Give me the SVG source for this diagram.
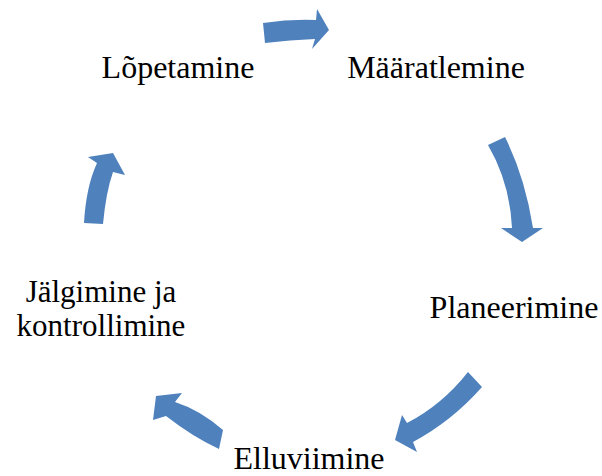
<svg xmlns="http://www.w3.org/2000/svg" width="602" height="476" viewBox="0 0 602 476">
<style>
.t{font-family:"Liberation Serif","Times New Roman",serif;font-size:32px;fill:#000;text-anchor:middle}
.s{font-size:31px}
.a{fill:#4F81BD;stroke:none}
</style>
<rect width="602" height="476" fill="#fff"/>
<g id="connectors">
<path class="a" d="M263,23 Q290,19 316,20 L317,9 L329,30 L312,49 L315,39 Q290,40 265,43 Z"/>
<path class="a" d="M488,145 Q510,183 512,228 L501,228 L522,242 L543,228 L533,228 Q525,177 505,137 Z"/>
<path class="a" d="M468,372 Q442,405 407,423 L402,415 L395,440 L417,452 L413,442 Q452,421 482,387 Z"/>
<path class="a" d="M223,430 Q200,410 175,402 L182,393 L156,396 L153,420 L166,416 Q193,437 219,449 Z"/>
<path class="a" d="M84,223 Q86,187 97,163 L88,157 L113,153 L125,175 L113,172 Q106,192 103,224 Z"/>
</g>
<g id="node-maaratlemine"><text class="t" x="436" y="78">Määratlemine</text></g>
<g id="node-planeerimine"><text class="t" x="514" y="318">Planeerimine</text></g>
<g id="node-elluviimine"><text class="t" x="309" y="469">Elluviimine</text></g>
<g id="node-jalgimine"><text class="t s" x="101" y="302">Jälgimine ja</text><text class="t s" x="101" y="336">kontrollimine</text></g>
<g id="node-lopetamine"><text class="t" x="178" y="78">Lõpetamine</text></g>
</svg>
